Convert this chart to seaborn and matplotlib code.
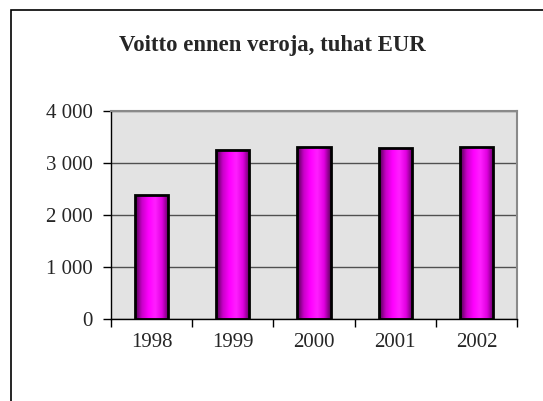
"""Voitto ennen veroja -pylväskaavio."""
import numpy as np
import pandas as pd
import matplotlib
matplotlib.use('Agg')
import matplotlib.pyplot as plt
import seaborn as sns
from matplotlib.colors import LinearSegmentedColormap
from matplotlib.patches import Rectangle
from matplotlib.ticker import FuncFormatter, FixedLocator

years = ['1998', '1999', '2000', '2001', '2002']
profit = [2380, 3250, 3300, 3290, 3310]
title = 'Voitto ennen veroja, tuhat EUR'
y_ticks = [0, 1000, 2000, 3000, 4000]


def shade_bars(ax):
    # cylinder-like gradient, dark edges, bright middle
    cmap = LinearSegmentedColormap.from_list(
        'mag', ['#4a004a', '#c800c8', '#ff00ff', '#ff20ff', '#e000e0', '#5a005a'])
    grad = np.linspace(0, 1, 256).reshape(1, -1)
    for p in ax.patches:
        x, y = p.get_x(), p.get_y()
        w, h = p.get_width(), p.get_height()
        im = ax.imshow(grad, cmap=cmap, aspect='auto', extent=(x, x + w, y, y + h),
                       zorder=2.5, interpolation='bicubic')
        im.set_clip_path(p)
        edge = Rectangle((x, y), w, h, fill=False, edgecolor='black', lw=2.0, zorder=3)
        ax.add_patch(edge)


def main():
    sns.set_style('white')
    plt.rcParams['font.family'] = ['Liberation Serif', 'DejaVu Serif']
    df = pd.DataFrame({'year': years, 'profit': profit})

    fig = plt.figure(figsize=(5.43, 4.01), dpi=100)
    ax = fig.add_axes([111 / 543, 1 - 319 / 401, 406 / 543, 208 / 401])
    ax.set_facecolor('#e3e3e3')

    sns.barplot(data=df, x='year', y='profit', color='#ff00ff', width=0.41,
                edgecolor='black', linewidth=0, ax=ax, zorder=2)
    ax.set_xlim(-0.5, len(years) - 0.5)
    ax.set_ylim(0, 4000)
    shade_bars(ax)

    ax.set_yticks(y_ticks)
    ax.yaxis.set_major_formatter(FuncFormatter(lambda v, _: f"{v:,.0f}".replace(',', ' ')))
    ax.yaxis.grid(True, color='#505050', lw=1.0, zorder=1)
    ax.set_axisbelow(True)

    # ticks between categories, labels centred
    ax.xaxis.set_major_locator(FixedLocator(np.arange(-0.5, len(years), 1.0)))
    ax.xaxis.set_major_formatter(FuncFormatter(lambda v, _: ''))
    ax.set_xticks(np.arange(len(years)), labels=years, minor=True)
    ax.tick_params(axis='x', which='minor', bottom=False, length=0, pad=10, labelsize=15)
    ax.tick_params(axis='x', which='major', bottom=True, length=6, width=1,
                   color='black', direction='out')
    ax.tick_params(axis='y', left=True, length=6, width=1, color='black', direction='out',
                   pad=7, labelsize=15)
    ax.set_xlabel('')
    ax.set_ylabel('')

    for side in ['left', 'bottom']:
        ax.spines[side].set_color('black')
        ax.spines[side].set_linewidth(1.0)
    for side in ['top', 'right']:
        ax.spines[side].set_color('#8a8a8a')
        ax.spines[side].set_linewidth(1.5)

    fig.text(272 / 543, 1 - 45 / 401, title, ha='center', va='center',
             fontsize=16.4, fontweight='bold')

    # outer chart frame
    fig.add_artist(Rectangle((11 / 543, -0.1), 1.2, 1 - 10 / 401 + 0.1, transform=fig.transFigure,
                             fill=False, edgecolor='black', lw=1.2))

    fig.savefig('out.png', dpi=100)


if __name__ == '__main__':
    main()
